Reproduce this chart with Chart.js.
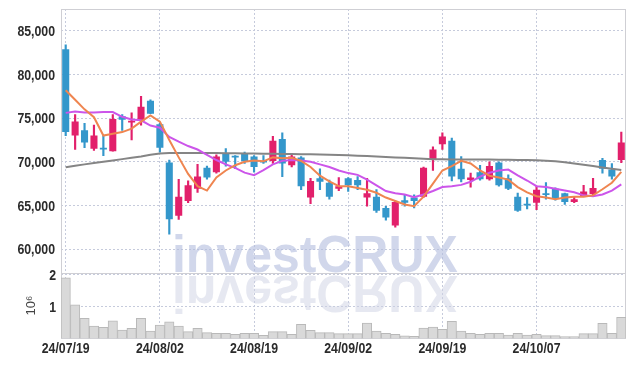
<!DOCTYPE html>
<html>
<head>
<meta charset="utf-8">
<script src="https://cdn.jsdelivr.net/npm/chart.js@4/dist/chart.umd.min.js"></script>
<style>
  html, body { margin: 0; padding: 0; background: #fff; }
  #wrap { width: 634px; height: 366px; }
</style>
</head>
<body>
<div id="wrap"><canvas id="chart"></canvas></div>
<script>
const dates = [
  '24/07/19','24/07/22','24/07/23','24/07/24','24/07/25','24/07/26','24/07/29','24/07/30','24/07/31','24/08/01',
  '24/08/02','24/08/05','24/08/06','24/08/07','24/08/08','24/08/09','24/08/12','24/08/13','24/08/14','24/08/16',
  '24/08/19','24/08/20','24/08/21','24/08/22','24/08/23','24/08/26','24/08/27','24/08/28','24/08/29','24/08/30',
  '24/09/02','24/09/03','24/09/04','24/09/05','24/09/06','24/09/09','24/09/10','24/09/11','24/09/12','24/09/13',
  '24/09/19','24/09/20','24/09/23','24/09/24','24/09/25','24/09/26','24/09/27','24/09/30','24/10/02','24/10/04',
  '24/10/07','24/10/08','24/10/10','24/10/11','24/10/14','24/10/15','24/10/16','24/10/17','24/10/18','24/10/21'
];

const opens = [
  82900, 73000, 73600, 71500, 71600, 71200, 75200, 74500, 74700, 77000,
  74300, 69900, 63800, 65500, 66900, 69300, 68800, 71000, 70700, 71000,
  70600, 70100, 70100, 72600, 69600, 70500, 65900, 68100, 67600, 66900,
  68100, 67900, 65900, 66000, 64700, 62700, 65600, 65900, 66000, 70300,
  72000, 72400, 69200, 67900, 68800, 68000, 69900, 68100, 66000, 65200,
  65300, 66400, 66900, 66400, 65400, 66000, 66300, 70200, 69100, 70200
];
const highs = [
  83400, 75400, 74400, 74200, 73000, 75400, 75400, 75600, 77500, 77100,
  74400, 70200, 68000, 67800, 69700, 69500, 70800, 71500, 70700, 71100,
  70700, 70700, 72900, 73300, 70900, 70600, 68100, 69200, 67900, 68200,
  68200, 68300, 68100, 66800, 64900, 65500, 66200, 66200, 69400, 71700,
  73300, 72700, 70600, 68700, 69600, 70000, 70000, 68500, 66400, 65900,
  67200, 67600, 67000, 66400, 66000, 67300, 68100, 70400, 69800, 73400
];
const lows = [
  73000, 71400, 71600, 71300, 70700, 71200, 73600, 72500, 74200, 75500,
  71100, 61700, 63400, 65300, 66500, 68000, 68700, 69500, 69200, 69800,
  68800, 69800, 69800, 68300, 69400, 66800, 65200, 66800, 65700, 66700,
  66600, 66800, 64900, 64200, 63300, 62500, 64900, 64700, 65900, 69000,
  71400, 67800, 67700, 67100, 67900, 67900, 67200, 66800, 64300, 64600,
  64500, 65700, 65600, 65100, 65300, 66000, 66000, 68700, 68000, 69900
];
const closes = [
  73400, 74600, 72200, 73000, 71400, 74900, 74800, 74700, 76300, 75500,
  71600, 63400, 66000, 67300, 68300, 68200, 70600, 70000, 70500, 70100,
  69400, 69900, 72400, 69800, 70600, 67200, 67800, 67700, 66000, 67200,
  67300, 67300, 66400, 64400, 63600, 65400, 65300, 65500, 69300, 71400,
  72900, 68300, 68000, 68200, 68000, 69500, 67300, 66900, 64400, 65000,
  66800, 66200, 65800, 65400, 65700, 66600, 67000, 69200, 68300, 72200
];

// moving averages
const ma5 = [
  78200, 77100, 76000, 75100, 73000, 73200, 73400, 73800, 74600, 75300,
  74600, 72500, 70500, 68600, 67200, 66700, 68200, 69000, 69600, 70000,
  70150, 70050, 70500, 70400, 70450, 70100, 69400, 68400, 67750, 67200,
  67200, 67000, 66800, 66450, 65900, 65500, 65100, 64900, 66000, 67500,
  69000, 69500, 70100, 69800, 69000, 68400, 68200, 67950, 67100, 66500,
  66050, 65900, 65700, 65900, 66000, 66000, 66150, 66850, 67600, 68850
];
const ma20 = [
  75600, 75750, 75650, 75650, 75700, 75700, 75150, 74850, 74750, 74150,
  73900, 72850, 72300, 71800, 71400, 70800, 70200, 69700, 69300, 68750,
  68450, 69050, 69700, 70100, 70200, 70150, 70000, 69700, 69400, 69000,
  68700, 68500, 67950, 67300, 66650, 66400, 66250, 65950, 66250, 66650,
  67100, 67200, 67350, 67700, 68300, 68750, 69000, 69100, 68450, 67850,
  67200, 67100, 66900, 66700, 66500, 66150, 66050, 66250, 66700, 67400
];
const ma60 = [
  69370, 69550, 69700, 69850, 70000, 70150, 70300, 70450, 70600, 70800,
  70950, 71000, 71000, 71000, 71000, 71000, 71000, 70980, 70960, 70950,
  70950, 70930, 70920, 70900, 70880, 70870, 70850, 70820, 70800, 70780,
  70750, 70700, 70650, 70600, 70550, 70500, 70450, 70400, 70350, 70300,
  70280, 70270, 70260, 70250, 70250, 70250, 70230, 70220, 70200, 70200,
  70180, 70120, 70060, 69950, 69800, 69650, 69500, 69350, 69200, 69050
];

const volumes = [
  1900000, 1050000, 630000, 390000, 350000, 550000, 265000, 320000, 630000, 235000,
  420000, 520000, 390000, 215000, 320000, 185000, 165000, 165000, 130000, 165000,
  165000, 100000, 215000, 215000, 130000, 440000, 255000, 185000, 185000, 150000,
  150000, 150000, 480000, 235000, 165000, 130000, 80000, 70000, 325000, 355000,
  285000, 540000, 235000, 165000, 130000, 165000, 165000, 110000, 165000, 110000,
  130000, 90000, 90000, 60000, 60000, 150000, 150000, 475000, 165000, 665000
];

const priceTicks = [60000, 65000, 70000, 75000, 80000, 85000];
const volumeTicks = [1000000, 2000000];

const UP = '#e2206b';
const DOWN = '#3497cb';
const GRID = '#c6cbdc';
const FRAME = '#cfcfd4';
const FONT = "'Liberation Sans', Arial, sans-serif";

const candleColors = closes.map((c, i) => c >= opens[i] ? UP : DOWN);

// panel frame and watermark, under the marks
const framePlugin = {
    id: 'framePlugin',
    beforeDatasetsDraw(chart) {
        const { ctx, chartArea: a, scales } = chart;
        ctx.save();
        const wx = a.left + 111;
        const wy = scales.y.bottom - 1;
        ctx.font = "bold 52px 'Liberation Sans', Arial, sans-serif";
        ctx.textBaseline = 'alphabetic';
        ctx.fillStyle = 'rgba(178, 188, 222, 0.6)';
        ctx.save();
        ctx.translate(wx, wy);
        ctx.scale(0.96, 1);
        ctx.fillText('investCRUX', 0, 0);
        ctx.restore();
        ctx.fillStyle = 'rgba(205, 210, 228, 0.5)';
        ctx.save();
        ctx.translate(wx, wy + 4);
        ctx.scale(0.96, -1);
        ctx.fillText('investCRUX', 0, 0);
        ctx.restore();

        ctx.strokeStyle = FRAME;
        ctx.lineWidth = 1;
        ctx.strokeRect(Math.round(a.left) + 0.5, Math.round(a.top) + 0.5,
            Math.round(a.width) - 1, Math.round(a.height) - 1);
        ctx.beginPath();
        ctx.moveTo(a.left, Math.round(scales.y.bottom) + 0.5);
        ctx.lineTo(a.right, Math.round(scales.y.bottom) + 0.5);
        ctx.stroke();
        ctx.restore();
    }
};

// tick labels in a narrow face (no narrow font is installed, so squeeze it)
const labelPlugin = {
    id: 'labelPlugin',
    afterDraw(chart) {
        const { ctx, scales } = chart;
        const put = (text, x, y, align) => {
            ctx.save();
            ctx.translate(x, y);
            ctx.scale(0.82, 1);
            ctx.textAlign = align;
            ctx.textBaseline = 'middle';
            ctx.fillText(text, 0, 0);
            ctx.restore();
        };
        ctx.save();
        ctx.font = 'bold 15px ' + FONT;
        ctx.fillStyle = '#2b2b2b';
        priceTicks.forEach(v => {
            put(v.toLocaleString('en-US'), scales.y.right - 6, scales.y.getPixelForValue(v) + 1, 'right');
        });
        volumeTicks.forEach(v => {
            put(String(v / 1000000), scales.yv.right - 5, scales.yv.getPixelForValue(v) + 1, 'right');
        });
        dates.forEach((d, i) => {
            if (i % 10 === 0) put(d, scales.x.getPixelForValue(i), scales.x.top + 10, 'center');
        });
        ctx.restore();
    }
};

const ctx = document.getElementById('chart').getContext('2d');
const chart = new Chart(ctx, {
    type: 'bar',
    data: {
        labels: dates,
        datasets: [
            {
                type: 'line',
                label: 'MA5',
                data: ma5,
                yAxisID: 'y',
                borderColor: '#ef8550',
                borderWidth: 2,
                pointRadius: 0,
                tension: 0,
                order: 0
            },
            {
                type: 'line',
                label: 'MA20',
                data: ma20,
                yAxisID: 'y',
                borderColor: '#cc55ea',
                borderWidth: 2,
                pointRadius: 0,
                tension: 0,
                order: 0
            },
            {
                type: 'line',
                label: 'MA60',
                data: ma60,
                yAxisID: 'y',
                borderColor: '#858585',
                borderWidth: 2,
                pointRadius: 0,
                tension: 0,
                order: 0
            },
            {
                label: 'body',
                data: opens.map((o, i) => [o, closes[i]]),
                yAxisID: 'y',
                backgroundColor: candleColors,
                borderWidth: 0,
                grouped: false,
                barPercentage: 0.75,
                categoryPercentage: 1,
                order: 1
            },
            {
                label: 'wick',
                data: lows.map((l, i) => [l, highs[i]]),
                yAxisID: 'y',
                backgroundColor: candleColors,
                borderWidth: 0,
                grouped: false,
                barThickness: 1.5,
                order: 2
            },
            {
                label: 'volume',
                data: volumes,
                yAxisID: 'yv',
                backgroundColor: '#d9d9d9',
                borderColor: '#b9b9b9',
                borderWidth: 1,
                grouped: false,
                barPercentage: 1,
                categoryPercentage: 1,
                order: 3
            }
        ]
    },
    options: {
        responsive: true,
        maintainAspectRatio: false,
        animation: false,
        layout: {
            padding: { top: 9, right: 8, left: 0, bottom: 0 }
        },
        plugins: {
            legend: { display: false },
            tooltip: { enabled: false }
        },
        scales: {
            x: {
                type: 'category',
                offset: true,
                grid: {
                    offset: false,
                    drawTicks: false,
                    color: c => c.index % 10 === 0 ? GRID : 'rgba(0,0,0,0)'
                },
                border: { display: false, dash: [2, 2] },
                ticks: { display: false, autoSkip: false },
                afterFit: scale => { scale.height = 27.5; }
            },
            yv: {
                position: 'left',
                stack: 'panels',
                stackWeight: 1,
                min: 0,
                max: 2060000,
                grid: { drawTicks: false, color: GRID },
                border: { display: false, dash: [2, 2] },
                ticks: { display: false },
                afterBuildTicks: scale => {
                    scale.ticks = volumeTicks.map(v => ({ value: v }));
                },
                title: {
                    display: true,
                    text: '10\u2076',
                    color: '#444',
                    font: { family: FONT, size: 13 },
                    padding: { top: 24, bottom: 0 }
                },
                afterFit: scale => { scale.width = 61; }
            },
            y: {
                position: 'left',
                stack: 'panels',
                stackWeight: 4,
                min: 57300,
                max: 87500,
                grid: { drawTicks: false, color: GRID },
                border: { display: false, dash: [2, 2] },
                ticks: { display: false },
                afterBuildTicks: scale => {
                    scale.ticks = priceTicks.map(v => ({ value: v }));
                },
                afterFit: scale => { scale.width = 61; }
            }
        }
    },
    plugins: [framePlugin, labelPlugin]
});
</script>
</body>
</html>
